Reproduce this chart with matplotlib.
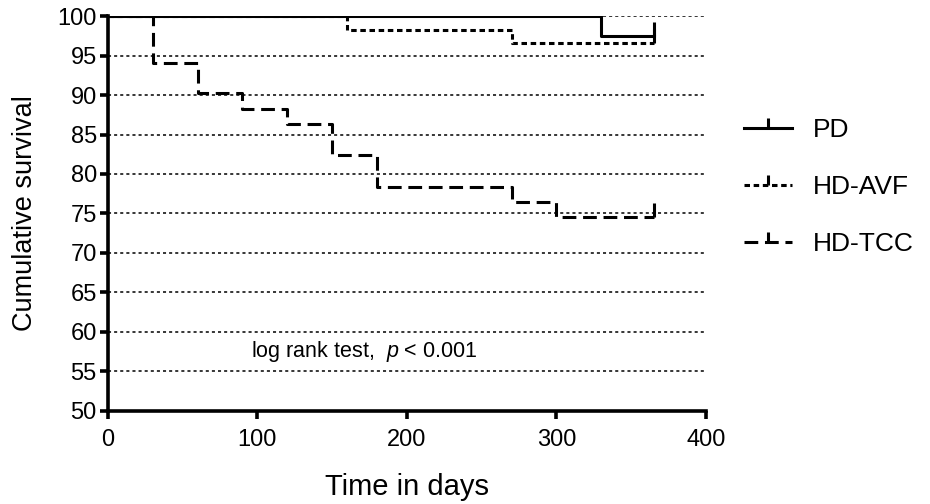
import matplotlib.pyplot as plt
from matplotlib.lines import Line2D

plt.rcParams['font.family'] = ['Liberation Sans', 'DejaVu Sans']
plt.rcParams['mathtext.fontset'] = 'custom'
plt.rcParams['mathtext.rm'] = 'Liberation Sans'
plt.rcParams['mathtext.it'] = 'Liberation Sans:italic'

# Kaplan-Meier step data (time in days, cumulative survival %)
pd_t = [0, 330, 365]
pd_s = [100, 97.5, 97.5]

avf_t = [0, 160, 270, 365]
avf_s = [100, 98.3, 96.6, 96.6]

tcc_t = [0, 30, 60, 90, 120, 150, 180, 270, 300, 365]
tcc_s = [100, 94.1, 90.2, 88.2, 86.3, 82.4, 78.4, 76.5, 74.5, 74.5]

labels = ["PD", "HD-AVF", "HD-TCC"]
yticks = [50, 55, 60, 65, 70, 75, 80, 85, 90, 95, 100]
xticks = [0, 100, 200, 300, 400]

lw = 2.2
styles = ['-', (0, (1.8, 1.2)), (0, (4.5, 2.2))]

fig = plt.figure(figsize=(9.3, 5.04), dpi=100)
ax = fig.add_axes([0.116, 0.185, 0.643, 0.783])

# dotted horizontal grid
for y in yticks[1:]:
    ax.axhline(y, color='black', lw=1.1, ls=(0, (2, 2)), zorder=1)

for t, s, ls in zip([pd_t, avf_t, tcc_t], [pd_s, avf_s, tcc_s], styles):
    ax.step(t, s, where='post', color='black', lw=lw, ls=ls, zorder=3)
    # censor tick at end of follow-up
    ax.plot(t[-1], s[-1], marker=2, ms=10, mew=lw, color='black', zorder=4,
            clip_on=False)

ax.set_xlim(0, 400)
ax.set_ylim(50, 100)
ax.set_xticks(xticks)
ax.set_yticks(yticks)
for sp in ['top', 'right']:
    ax.spines[sp].set_visible(False)
for sp in ['left', 'bottom']:
    ax.spines[sp].set_linewidth(2.6)
ax.tick_params(direction='out', length=6, width=2.6, labelsize=17, pad=2)
ax.tick_params(axis='x', pad=7)

ax.set_xlabel("Time in days", fontsize=21, labelpad=16)
ax.set_ylabel("Cumulative survival", fontsize=19.5, labelpad=14)

ax.text(96, 57.5, r"log rank test,  $p$ < 0.001", fontsize=15.5,
        va='center', ha='left')

handles = [Line2D([0], [0], color='black', lw=lw, ls=s, marker=2, ms=7, mew=lw)
           for s in styles]
fig.legend(handles, labels, loc='center left', bbox_to_anchor=(0.80, 0.629),
           frameon=False, fontsize=19, handlelength=1.8, labelspacing=1.25,
           handletextpad=0.8, borderpad=0, borderaxespad=0, numpoints=1)

fig.savefig("out.png", dpi=100)
